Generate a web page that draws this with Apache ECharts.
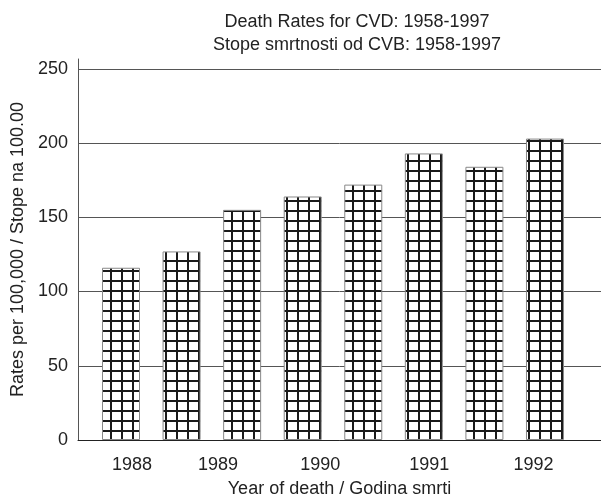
<!DOCTYPE html>
<html lang="en">
<head>
    <meta charset="UTF-8">
    <title>Death Rates for CVD</title>
    <style>
        html, body { margin: 0; padding: 0; background: #fff; }
        #main { width: 601px; height: 503px; }
    </style>
</head>
<body>
<div id="main"></div>
<script src="https://cdn.jsdelivr.net/npm/echarts@6/dist/echarts.min.js"></script>
<script>
    // bar heights, left to right (rates per 100,000)
    var rates = [116, 127, 155, 164, 172, 193, 184, 203];
    // year labels and where they sit, in bar-index units
    var years = ['1988', '1989', '1990', '1991', '1992'];
    var yearPos = [0.18, 1.6, 3.29, 5.09, 6.81];
    var yTicks = [0, 50, 100, 150, 200, 250];

    var font = 'Liberation Sans, Arial, sans-serif';

    // grid hatch used to fill the bars
    var tile = document.createElement('canvas');
    tile.width = 11;
    tile.height = 10;
    var ctx = tile.getContext('2d');
    ctx.fillStyle = '#fff';
    ctx.fillRect(0, 0, 11, 10);
    ctx.fillStyle = '#1a1a1a';
    ctx.fillRect(0, 0, 2, 10);
    ctx.fillRect(0, 0, 11, 2);

    var data = rates.map(function (v, i) { return [i, v]; });

    var chart = echarts.init(document.getElementById('main'));
    chart.setOption({
        animation: false,
        title: {
            text: 'Death Rates for CVD: 1958-1997\nStope smrtnosti od CVB: 1958-1997',
            left: 352,
            top: 6,
            textAlign: 'center',
            textStyle: {
                fontFamily: font,
                fontSize: 18,
                fontWeight: 'normal',
                color: '#222',
                lineHeight: 23
            }
        },
        grid: {
            left: 78,
            right: 0,
            top: 59,
            bottom: 56
        },
        xAxis: {
            type: 'value',
            min: -0.71,
            max: 7.925,
            name: 'Year of death / Godina smrti',
            nameLocation: 'middle',
            nameGap: 40,
            nameTextStyle: { fontFamily: font, fontSize: 18, color: '#222' },
            axisLine: { lineStyle: { color: '#222', width: 1 } },
            axisTick: { show: false },
            splitLine: { show: false },
            axisLabel: {
                customValues: yearPos,
                margin: 16,
                fontFamily: font,
                fontSize: 18,
                color: '#222',
                formatter: function (v) {
                    return years[yearPos.indexOf(v)];
                }
            }
        },
        yAxis: {
            type: 'value',
            min: 0,
            max: 256.6,
            interval: 50,
            name: 'Rates per 100,000 / Stope na 100.00',
            nameLocation: 'middle',
            nameGap: 49,
            nameTextStyle: { fontFamily: font, fontSize: 18, color: '#222' },
            axisLine: { show: true, onZero: false, lineStyle: { color: '#555', width: 1 } },
            axisTick: { show: false },
            axisLabel: {
                margin: 10,
                fontFamily: font,
                fontSize: 18,
                color: '#222',
                showMaxLabel: false,
                formatter: function (v) {
                    return yTicks.indexOf(v) >= 0 ? String(v) : '';
                }
            },
            splitLine: {
                show: true,
                showMaxLine: false,
                lineStyle: { color: '#555', width: 1 }
            }
        },
        series: [{
            type: 'bar',
            barWidth: 38,
            data: data,
            itemStyle: {
                color: { image: tile, repeat: 'repeat' },
                borderColor: '#888',
                borderWidth: 1
            }
        }]
    });
</script>
</body>
</html>
